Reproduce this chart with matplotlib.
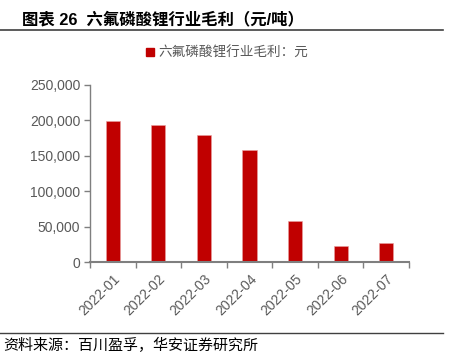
import matplotlib
matplotlib.use("Agg")
import matplotlib.pyplot as plt
from matplotlib.ticker import FuncFormatter
from matplotlib.lines import Line2D

plt.rcParams['font.family'] = ['Liberation Sans', 'Noto Sans CJK SC', 'DejaVu Sans']

categories = ['2022-01', '2022-02', '2022-03', '2022-04', '2022-05', '2022-06', '2022-07']
values = [198500, 193000, 179800, 158200, 57500, 22100, 26800]
yticks = [0, 50000, 100000, 150000, 200000, 250000]
series_name = '六氟磷酸锂行业毛利：元'
title = '图表 26  六氟磷酸锂行业毛利（元/吨）'
source = '资料来源：百川盈孚，华安证券研究所'

W, H = 449, 354
fig = plt.figure(figsize=(W / 100, H / 100), dpi=100)
ax = fig.add_axes([90 / W, 1 - 262 / H, (409 - 90) / W, (262 - 85) / H])

red = '#C00000'
gray_axis = '#7F7F7F'
gray_text = '#595959'

x = list(range(len(categories)))
ax.bar(x, values, width=0.31, color=red, edgecolor='#E8A0A0', linewidth=0.4)
ax.set_xlim(-0.5, len(categories) - 0.5)
ax.set_ylim(0, 250000)
ax.set_yticks(yticks)
ax.yaxis.set_major_formatter(FuncFormatter(lambda v, p: f'{int(v):,}'))
ax.set_xticks(x)
ax.set_xticklabels(categories, rotation=45, ha='right', rotation_mode='anchor')
ax.set_xticks([i - 0.5 for i in range(len(categories) + 1)], minor=True)
ax.tick_params(axis='x', which='major', length=0, pad=7, labelsize=10, labelcolor=gray_text)
ax.tick_params(axis='x', which='minor', length=4, direction='out', color=gray_axis, width=1)
ax.tick_params(axis='y', length=4, direction='out', color=gray_axis, width=1, labelsize=10,
               labelcolor=gray_text, pad=3)
for s in ['top', 'right']:
    ax.spines[s].set_visible(False)
ax.spines['left'].set_color(gray_axis)
ax.spines['bottom'].set_color(gray_axis)
ax.spines['left'].set_linewidth(1.0)
ax.spines['bottom'].set_linewidth(1.5)

handle = Line2D([], [], marker='s', color='none', markerfacecolor=red, markeredgecolor=red, markersize=6)
fig.legend([handle], [series_name], loc='center', bbox_to_anchor=(226 / W, 1 - 53 / H),
           frameon=False, labelcolor=gray_text, handletextpad=0.1, handlelength=1.0,
           prop={'family': ['Noto Sans CJK SC'], 'size': 9.8, 'weight': 'light'})

fig.text(22 / W, 1 - 19 / H, title, fontsize=11.8, fontweight='bold', va='center', ha='left',
         family=['Liberation Sans', 'Noto Sans CJK SC'], color='black')
fig.add_artist(Line2D([0, 443 / W], [1 - 30 / H, 1 - 30 / H], color='#404040', linewidth=1.2))
fig.add_artist(Line2D([0, 443 / W], [1 - 333 / H, 1 - 333 / H], color='#404040', linewidth=1.0))
fig.text(3 / W, 1 - 345 / H, source, fontsize=10.8, va='center', ha='left',
         family=['Noto Sans CJK SC'], color='black')

fig.savefig('out.png', dpi=100)
